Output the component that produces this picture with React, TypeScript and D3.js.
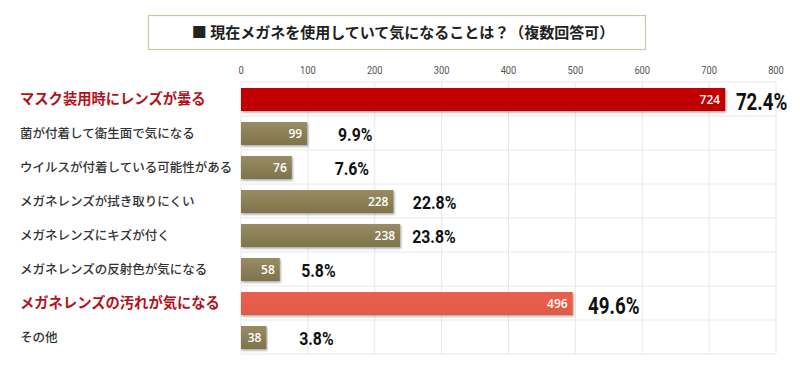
import React from "react";
import * as d3 from "d3";

const categories: string[] = [
  "マスク装用時にレンズが曇る",
  "菌が付着して衛生面で気になる",
  "ウイルスが付着している可能性がある",
  "メガネレンズが拭き取りにくい",
  "メガネレンズにキズが付く",
  "メガネレンズの反射色が気になる",
  "メガネレンズの汚れが気になる",
  "その他",
];
const counts: number[] = [724, 99, 76, 228, 238, 58, 496, 38];
const percents: string[] = ["72.4%", "9.9%", "7.6%", "22.8%", "23.8%", "5.8%", "49.6%", "3.8%"];
// where each percent label starts, in axis units
const percentAt: number[] = [740, 145, 140, 257, 256, 90, 519, 87];
// 0 = normal, 1 = highlighted dark red, 2 = highlighted salmon
const emphasis: number[] = [1, 0, 0, 0, 0, 0, 2, 0];
const ticks: number[] = [0, 100, 200, 300, 400, 500, 600, 700, 800];
const title = "■ 現在メガネを使用していて気になることは？（複数回答可）";

const W = 800;
const H = 374;
const JP = "'Noto Sans CJK JP', 'Noto Sans', sans-serif";
const NUM = "Roboto, 'Noto Sans', sans-serif";

export default function App() {
  const x = d3.scaleLinear().domain([0, 800]).range([241, 776]);
  const y = d3.scaleBand<number>().domain(d3.range(categories.length)).range([82, 354]);
  const bw = y.bandwidth();
  const barOff = 6;
  const barH = 23;

  const fillFor = (e: number) => (e === 1 ? "#c00000" : e === 2 ? "url(#salmonGrad)" : "url(#oliveGrad)");

  return (
    <div style={{ position: "absolute", left: 0, top: 0 }}>
      <svg width={W} height={H} style={{ display: "block", background: "#fff" }}>
        <defs>
          <linearGradient id="oliveGrad" x1="0" y1="0" x2="0" y2="1">
            <stop offset="0" stopColor="#978c64" />
            <stop offset="1" stopColor="#7f734b" />
          </linearGradient>
          <linearGradient id="salmonGrad" x1="0" y1="0" x2="0" y2="1">
            <stop offset="0" stopColor="#e9614e" />
            <stop offset="1" stopColor="#e05a47" />
          </linearGradient>
          <filter id="shadow" x="-5%" y="-20%" width="110%" height="150%">
            <feDropShadow dx="1" dy="1.5" stdDeviation="0.9" floodColor="#000" floodOpacity="0.35" />
          </filter>
        </defs>

        {/* title box */}
        <rect x={148.5} y={15.5} width={497} height={34} fill="#fff" stroke="#c8c8a6" strokeWidth={1.2} />
        <text x={403} y={38} textAnchor="middle" fontFamily={JP} fontWeight={700} fontSize={15} fill="#222">
          {title}
        </text>

        {/* grid */}
        {ticks.map((t) => (
          <line key={"v" + t} x1={x(t)} x2={x(t)} y1={82} y2={354} stroke="#e8e8e8" strokeWidth={1} />
        ))}
        {d3.range(categories.length + 1).map((i) => {
          const yy = i < categories.length ? (y(i) as number) : 354;
          return <line key={"h" + i} x1={x(0)} x2={x(800)} y1={yy} y2={yy} stroke="#e8e8e8" strokeWidth={1} />;
        })}

        {/* tick labels */}
        {ticks.map((t) => (
          <text
            key={"t" + t}
            transform={`translate(${x(t)},73.5) scale(0.85,1)`}
            textAnchor="middle"
            fontFamily={NUM}
            fontSize={11}
            fill="#555"
          >
            {t}
          </text>
        ))}

        {categories.map((c, i) => {
          const top = y(i) as number;
          const cy = top + bw / 2;
          const e = emphasis[i];
          return (
            <g key={c}>
              <text
                x={20}
                y={cy + (e ? 5 : 4.5)}
                fontFamily={JP}
                fontSize={e ? 14.3 : 12.5}
                fontWeight={e ? 700 : 500}
                fill={e ? "#b3121b" : "#333"}
              >
                {c}
              </text>
              <rect
                x={x(0)}
                y={top + barOff}
                width={x(counts[i]) - x(0)}
                height={barH}
                fill={fillFor(e)}
                filter="url(#shadow)"
              />
              <text
                x={x(counts[i]) - 5}
                y={top + barOff + barH / 2 + 4.5}
                textAnchor="end"
                fontFamily="'Open Sans', sans-serif"
                fontWeight={600}
                fontSize={12}
                fill="#fff"
              >
                {counts[i]}
              </text>
              <text
                transform={`translate(${x(percentAt[i])},${cy + (e ? 10.5 : 8)}) scale(${e ? 0.78 : 0.88},1)`}
                fontFamily={NUM}
                fontWeight={700}
                fontSize={e ? 24 : 18}
                fill="#111"
              >
                {percents[i]}
              </text>
            </g>
          );
        })}
      </svg>
    </div>
  );
}
